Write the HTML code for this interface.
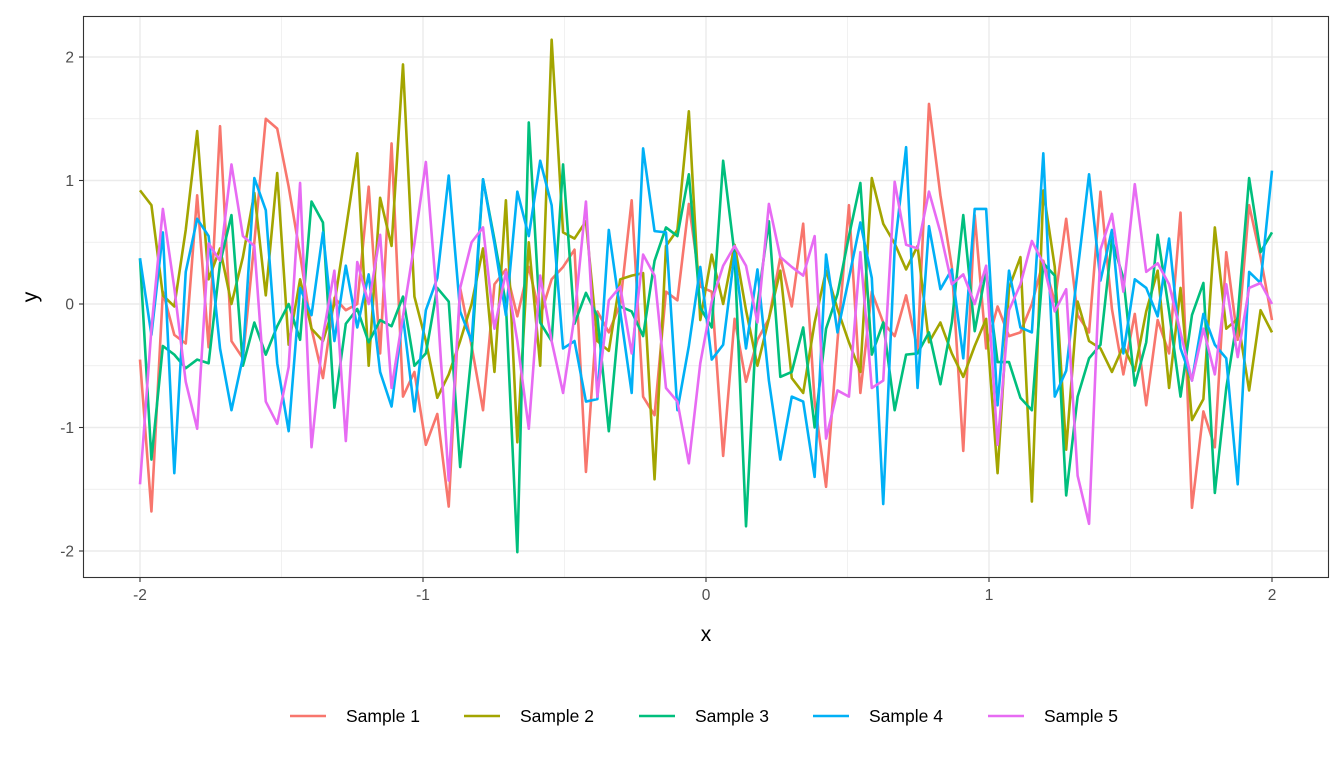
<!DOCTYPE html>
<html><head><meta charset="utf-8"><style>
html,body{margin:0;padding:0;background:#fff;}
svg{display:block;font-family:"Liberation Sans",sans-serif;}
</style></head><body>
<svg id="chart" width="1344" height="768" viewBox="0 0 1344 768">
<rect x="0" y="0" width="1344" height="768" fill="#fff"/>
<g id="grid"></g>
<g id="lines"></g>
<rect x="83.5" y="16.5" width="1245" height="561" fill="none" stroke="#333" stroke-width="1.1"/>
<g id="axes"></g>
<text x="706" y="641" font-size="21" text-anchor="middle" fill="#000">x</text>
<text x="37" y="297" font-size="21" text-anchor="middle" fill="#000" transform="rotate(-90 37 297)">y</text>
<g id="legend"></g>
</svg>
<script>
const seriesNames = ["Sample 1","Sample 2","Sample 3","Sample 4","Sample 5"];
const seriesColors = ["#F8766D","#A3A500","#00BF7D","#00B0F6","#E76BF3"];
const xTicks = [-2,-1,0,1,2];
const yTicks = [-2,-1,0,1,2];
const s1 = [-0.45,-1.68,0.1,-0.25,-0.32,0.88,-0.35,1.44,-0.3,-0.44,0.5,1.5,1.42,0.95,0.4,-0.2,-0.6,0.05,-0.05,0.0,0.95,-0.4,1.3,-0.75,-0.55,-1.14,-0.89,-1.64,0.13,-0.34,-0.86,0.16,0.28,-0.1,0.3,-0.1,0.2,0.3,0.44,-1.36,-0.06,-0.23,0.0,0.84,-0.75,-0.9,0.1,0.03,0.81,0.14,0.1,-1.23,-0.12,-0.63,-0.29,-0.12,0.38,-0.02,0.65,-0.79,-1.48,-0.3,0.8,-0.72,0.1,-0.15,-0.26,0.07,-0.37,1.62,0.88,0.3,-1.19,0.72,-0.36,-0.02,-0.26,-0.23,0.0,0.35,0.02,0.69,-0.09,-0.23,0.91,-0.04,-0.57,-0.08,-0.82,-0.13,-0.4,0.74,-1.65,-0.87,-1.16,0.42,-0.29,0.8,0.38,-0.13];
const s2 = [0.92,0.8,0.07,-0.02,0.6,1.4,0.2,0.45,0.0,0.38,0.9,0.07,1.06,-0.33,0.2,-0.2,-0.3,0.0,0.6,1.22,-0.5,0.86,0.47,1.94,0.06,-0.3,-0.76,-0.57,-0.3,0.0,0.45,-0.55,0.84,-1.12,0.5,-0.5,2.14,0.58,0.53,0.67,-0.3,-0.38,0.2,0.23,0.25,-1.42,0.47,0.6,1.56,-0.13,0.4,0.0,0.48,-0.05,-0.5,-0.12,0.27,-0.6,-0.72,-0.15,0.27,-0.04,-0.31,-0.55,1.02,0.65,0.49,0.28,0.47,-0.31,-0.15,-0.4,-0.59,-0.34,-0.12,-1.37,0.13,0.38,-1.6,0.92,0.3,-1.18,0.02,-0.3,-0.36,-0.55,-0.34,-0.54,-0.06,0.27,-0.68,0.13,-0.94,-0.77,0.62,-0.2,-0.12,-0.7,-0.05,-0.23];
const s3 = [0.37,-1.26,-0.34,-0.41,-0.52,-0.45,-0.48,0.33,0.72,-0.5,-0.15,-0.41,-0.18,0.0,-0.29,0.83,0.66,-0.84,-0.16,-0.04,-0.31,-0.13,-0.18,0.06,-0.5,-0.4,0.13,0.02,-1.32,-0.4,1.01,0.52,0.0,-2.01,1.47,-0.15,-0.3,1.13,-0.16,0.09,-0.1,-1.03,-0.02,-0.06,-0.26,0.35,0.62,0.55,1.05,-0.03,-0.19,1.16,0.4,-1.8,0.0,0.67,-0.59,-0.55,-0.19,-1.0,-0.2,0.08,0.55,0.98,-0.41,-0.15,-0.86,-0.41,-0.4,-0.23,-0.65,-0.15,0.72,-0.22,0.27,-0.47,-0.47,-0.76,-0.86,0.33,0.23,-1.55,-0.75,-0.44,-0.33,0.52,0.21,-0.66,-0.31,0.56,-0.06,-0.75,-0.09,0.17,-1.53,-0.68,-0.1,1.02,0.42,0.58];
const s4 = [0.37,-0.25,0.58,-1.37,0.26,0.69,0.55,-0.36,-0.86,-0.43,1.02,0.76,-0.48,-1.03,0.13,-0.09,0.58,-0.3,0.31,-0.19,0.24,-0.55,-0.83,-0.1,-0.87,-0.05,0.21,1.04,-0.06,-0.3,1.01,0.49,-0.09,0.91,0.55,1.16,0.8,-0.36,-0.3,-0.79,-0.77,0.6,-0.06,-0.72,1.26,0.59,0.58,-0.86,-0.34,0.3,-0.45,-0.33,0.41,-0.36,0.28,-0.62,-1.26,-0.75,-0.79,-1.4,0.4,-0.23,0.21,0.66,0.21,-1.62,0.45,1.27,-0.68,0.63,0.12,0.28,-0.44,0.77,0.77,-0.82,0.27,-0.19,-0.23,1.22,-0.75,-0.54,0.27,1.05,0.19,0.6,-0.4,0.2,0.13,-0.1,0.53,-0.36,-0.62,-0.08,-0.33,-0.44,-1.46,0.26,0.17,1.08];
const s5 = [-1.46,-0.2,0.77,0.13,-0.63,-1.01,0.49,0.35,1.13,0.55,0.47,-0.79,-0.97,-0.51,0.98,-1.16,-0.26,0.27,-1.11,0.34,0.0,0.56,-0.68,-0.1,0.49,1.15,0.0,-1.43,0.13,0.5,0.62,-0.2,0.26,-0.3,-1.01,0.23,-0.3,-0.72,-0.1,0.83,-0.75,0.03,0.14,-0.4,0.4,0.23,-0.68,-0.79,-1.29,-0.48,0.02,0.31,0.47,0.31,-0.15,0.81,0.38,0.3,0.23,0.55,-1.09,-0.7,-0.75,0.42,-0.68,-0.62,0.99,0.48,0.45,0.91,0.58,0.16,0.24,0.0,0.31,-1.14,-0.05,0.16,0.51,0.33,-0.06,0.12,-1.39,-1.78,0.44,0.73,0.1,0.97,0.26,0.33,0.16,-0.23,-0.62,-0.2,-0.57,0.16,-0.43,0.13,0.17,0.0];
const seriesValues = [s1,s2,s3,s4,s5];

const NS = "http://www.w3.org/2000/svg";
function xScale(v){ return 140 + (v + 2) * 283; }
function yScale(v){ return 304 - v * 123.5; }
function mk(tag, attrs, parent){ const e=document.createElementNS(NS,tag); for(const k in attrs) e.setAttribute(k,attrs[k]); parent.appendChild(e); return e; }

const grid=document.getElementById('grid');
for(let v=-2; v<=2.001; v+=0.5){
  const major = Math.abs(v - Math.round(v)) < 1e-9;
  const gx = mk('line',{x1:xScale(v),x2:xScale(v),y1:16.5,y2:577.5,stroke:'#ebebeb','stroke-width':major?1.4:0.7},grid);
  
  
  const gy = mk('line',{x1:83.5,x2:1328.5,y1:yScale(v),y2:yScale(v),stroke:'#ebebeb','stroke-width':major?1.4:0.7},grid);
  
  
}

const lines=document.getElementById('lines');
seriesValues.forEach((vals,si)=>{
  const n=vals.length;
  const pts=vals.map((v,i)=>xScale(-2+4*i/(n-1)).toFixed(2)+','+yScale(v).toFixed(2)).join(' ');
  const pl=mk('polyline',{points:pts,fill:'none',stroke:seriesColors[si],'stroke-width':2.6,'stroke-linejoin':'round'},lines);
  
  
});

const axes=document.getElementById('axes');
xTicks.forEach(t=>{
  const tk=mk('line',{x1:xScale(t),x2:xScale(t),y1:577.5,y2:582,stroke:'#333','stroke-width':1.1},axes);
  
  
  const lb=mk('text',{x:xScale(t),y:600,'font-size':15.5,'text-anchor':'middle',fill:'#4d4d4d'},axes);
  lb.textContent=String(t);
  
  
});
yTicks.forEach(t=>{
  const tk=mk('line',{x1:79,x2:83.5,y1:yScale(t),y2:yScale(t),stroke:'#333','stroke-width':1.1},axes);
  
  
  const lb=mk('text',{x:74,y:yScale(t)+5.5,'font-size':15.5,'text-anchor':'end',fill:'#4d4d4d'},axes);
  lb.textContent=String(t);
  
  
});

const legend=document.getElementById('legend');
const legendStarts=[290,464,639,813,988];
seriesNames.forEach((name,si)=>{
  const g=mk('g',{},legend);
  
  
  const x0=legendStarts[si];
  const ln=mk('line',{x1:x0,x2:x0+36,y1:716,y2:716,stroke:seriesColors[si],'stroke-width':2.6},g);
  
  
  const tx=mk('text',{x:x0+56,y:722,'font-size':17.5,fill:'#000'},g);
  tx.textContent=name;
  
  
});
</script>
</body></html>
